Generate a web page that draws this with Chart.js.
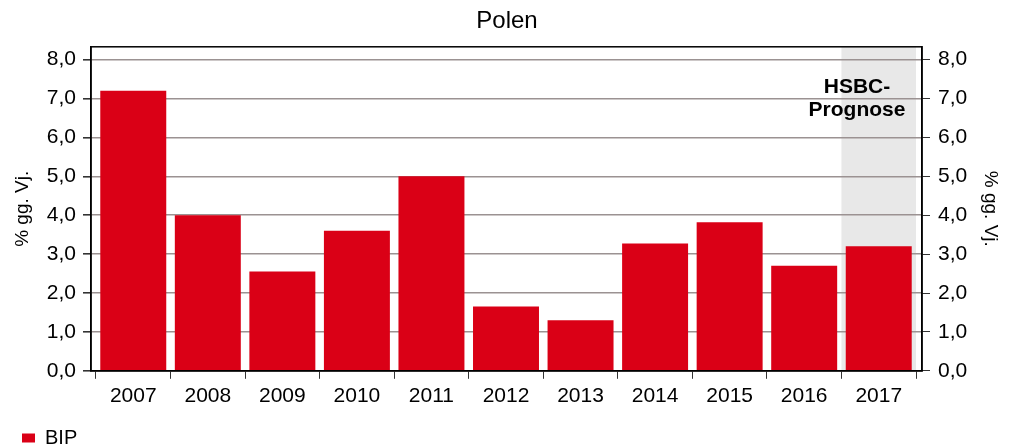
<!DOCTYPE html>
<html><head><meta charset="utf-8">
<script src="https://cdn.jsdelivr.net/npm/chart.js@4/dist/chart.umd.min.js"></script>
<style>html,body{margin:0;padding:0;background:#fff}#w{width:1012px;height:448px}</style>
</head><body><div id="w"><canvas id="c"></canvas></div>
<script>
const categories = ['2007','2008','2009','2010','2011','2012','2013','2014','2015','2016','2017'];
const bipValues = [7.2, 4.0, 2.55, 3.6, 5.0, 1.65, 1.3, 3.27, 3.82, 2.7, 3.2];
const yTickValues = [0,1,2,3,4,5,6,7,8];
const forecastCategory = '2017';
const forecastLabel = ['HSBC-', 'Prognose'];
const seriesName = 'BIP';
const axisTitle = '% gg. Vj.';

const FONT = "'Liberation Sans', Arial, sans-serif";
const fmt = v => v.toFixed(1).replace('.', ',');

const forecastPlugin = {
  id: 'forecast',
  afterLayout(chart) {
    // inset the category band slightly inside the plot frame, as in the original
    const x = chart.scales.x, a = chart.chartArea;
    x._startPixel = a.left + 5;
    x._endPixel = a.right - 6;
    x._length = x._endPixel - x._startPixel;
  },
  beforeDraw(chart) {
    const {ctx, chartArea, scales} = chart;
    const x = scales.x;
    const i = categories.indexOf(forecastCategory);
    const half = (x.getPixelForValue(1) - x.getPixelForValue(0)) / 2;
    const left = x.getPixelForValue(i) - half;
    const right = x.getPixelForValue(i) + half;
    ctx.save();
    ctx.fillStyle = '#e8e8e8';
    ctx.fillRect(left, chartArea.top, right - left, chartArea.bottom - chartArea.top);
    ctx.restore();
  },
  afterDatasetsDraw(chart) {
    const {ctx, chartArea, scales} = chart;
    ctx.save();
    ctx.strokeStyle = '#000';
    ctx.lineWidth = 1.5;
    ctx.strokeRect(chartArea.left, chartArea.top, chartArea.right - chartArea.left, chartArea.bottom - chartArea.top);
    ctx.fillStyle = '#000';
    ctx.font = "bold 21px " + FONT;
    ctx.textAlign = 'center';
    ctx.textBaseline = 'middle';
    const cx = chartArea.right - 65;
    ctx.fillText(forecastLabel[0], cx, scales.y.getPixelForValue(7.28));
    ctx.fillText(forecastLabel[1], cx, scales.y.getPixelForValue(6.69));
    ctx.restore();
  }
};

const keepIntTicks = axis => { axis.ticks = yTickValues.map(v => ({value: v})); };

new Chart(document.getElementById('c'), {
  type: 'bar',
  data: {
    labels: categories,
    datasets: [{
      label: seriesName,
      data: bipValues,
      backgroundColor: '#da0016',
      borderWidth: 0,
      barPercentage: 0.885,
      categoryPercentage: 1.0,
      yAxisID: 'y'
    }]
  },
  options: {
    responsive: true,
    maintainAspectRatio: false,
    animation: false,
    layout: {padding: {left: 8, right: 6, top: 0, bottom: -10}},
    plugins: {
      title: {display: true, text: 'Polen', color: '#000', font: {family: FONT, size: 24, weight: 'normal'}, padding: {top: 7, bottom: 11}},
      legend: {
        position: 'bottom', align: 'start',
        labels: {color: '#000', font: {family: FONT, size: 20}, boxWidth: 13, boxHeight: 9, padding: 14}
      },
      tooltip: {enabled: false}
    },
    scales: {
      x: {
        grid: {drawOnChartArea: false, drawTicks: true, tickLength: 8, color: '#333', offset: true},
        border: {display: true, color: '#000', width: 1.5},
        ticks: {color: '#000', font: {family: FONT, size: 21}, padding: 5, maxRotation: 0}
      },
      y: {
        position: 'left', min: 0, max: 8.33,
        afterBuildTicks: keepIntTicks,
        grid: {color: '#9b9292', lineWidth: 1.6, tickLength: 8, tickColor: '#333'},
        border: {display: true, color: '#000', width: 1.5},
        ticks: {color: '#000', font: {family: FONT, size: 21}, padding: 7, callback: v => fmt(v)},
        title: {display: true, text: axisTitle, color: '#000', font: {family: FONT, size: 19}, padding: {top: 3, bottom: 6}}
      },
      y2: {
        position: 'right', min: 0, max: 8.33,
        afterBuildTicks: keepIntTicks,
        grid: {drawOnChartArea: false, tickLength: 8, color: '#333'},
        border: {display: true, color: '#000', width: 1.5},
        ticks: {color: '#000', font: {family: FONT, size: 21}, padding: 8, callback: v => fmt(v)},
        title: {display: true, text: axisTitle, color: '#000', font: {family: FONT, size: 19}, padding: {top: 4, bottom: 4}}
      }
    }
  },
  plugins: [forecastPlugin]
});
</script></body></html>
